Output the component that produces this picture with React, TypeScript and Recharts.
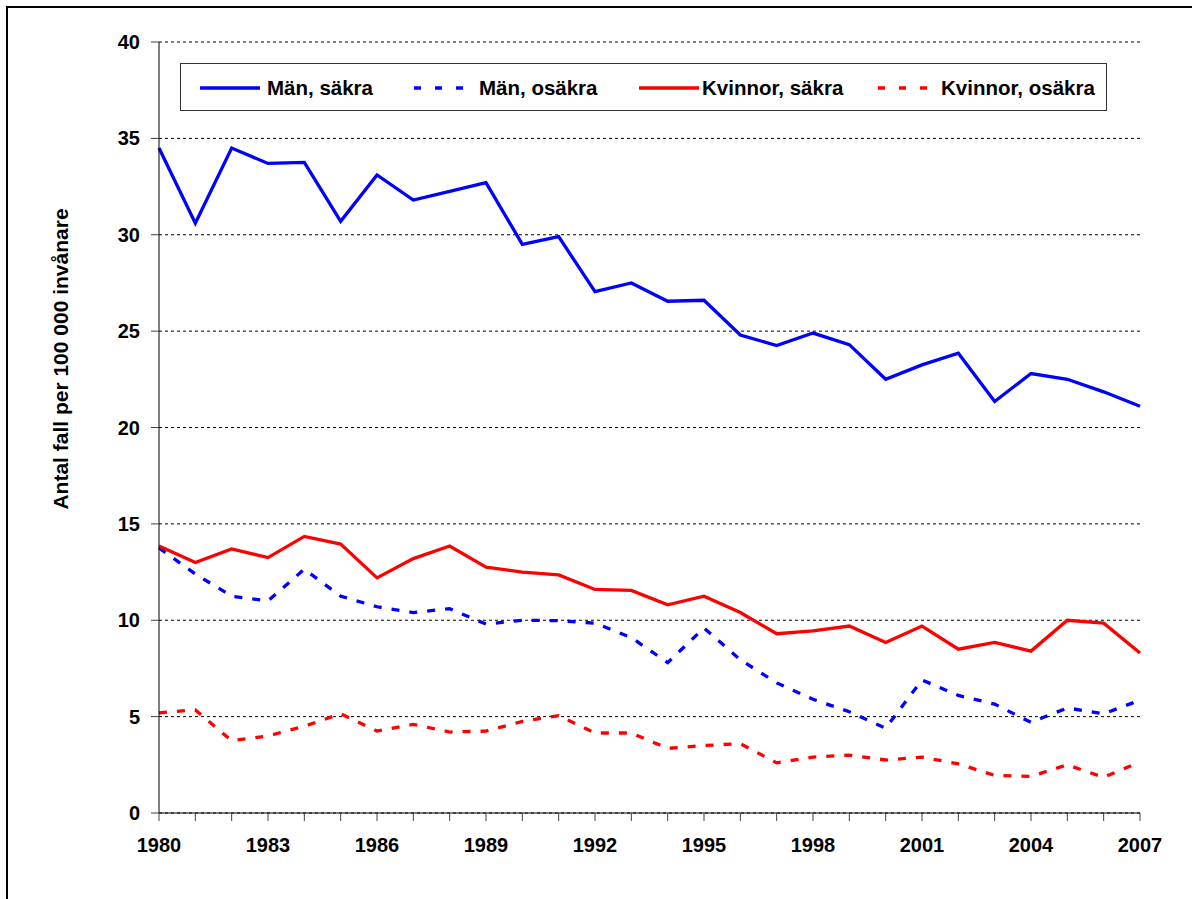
import { CartesianGrid, Line, LineChart, XAxis, YAxis } from "recharts";

const YEARS = [
  1980, 1981, 1982, 1983, 1984, 1985, 1986, 1987, 1988, 1989, 1990, 1991, 1992, 1993,
  1994, 1995, 1996, 1997, 1998, 1999, 2000, 2001, 2002, 2003, 2004, 2005, 2006, 2007,
];

const MEN_SURE = [
  34.5, 30.6, 34.5, 33.7, 33.75, 30.7, 33.1, 31.8, 32.25, 32.7, 29.5, 29.9, 27.05, 27.5,
  26.55, 26.6, 24.8, 24.25, 24.9, 24.3, 22.5, 23.25, 23.85, 21.35, 22.8, 22.5, 21.85, 21.1,
];
const MEN_UNSURE = [
  13.75, 12.4, 11.25, 11.0, 12.65, 11.25, 10.7, 10.4, 10.6, 9.8, 10.0, 9.98, 9.85, 9.1,
  7.8, 9.6, 7.95, 6.75, 5.9, 5.25, 4.4, 6.9, 6.1, 5.65, 4.7, 5.45, 5.15, 5.85,
];
const WOMEN_SURE = [
  13.85, 13.0, 13.7, 13.25, 14.35, 13.95, 12.2, 13.2, 13.85, 12.75, 12.5, 12.35, 11.6, 11.55,
  10.8, 11.25, 10.4, 9.3, 9.45, 9.7, 8.85, 9.7, 8.5, 8.85, 8.4, 10.0, 9.85, 8.3,
];
const WOMEN_UNSURE = [
  5.2, 5.35, 3.75, 4.0, 4.5, 5.15, 4.25, 4.6, 4.2, 4.25, 4.75, 5.05, 4.15, 4.15,
  3.35, 3.5, 3.6, 2.6, 2.9, 3.0, 2.75, 2.9, 2.55, 1.95, 1.9, 2.5, 1.85, 2.65,
];

const Y_TICKS = [0, 5, 10, 15, 20, 25, 30, 35, 40];

const SERIES = [
  { key: "menSure", name: "Män, säkra", color: "#0000FF", dashed: false },
  { key: "menUnsure", name: "Män, osäkra", color: "#0000FF", dashed: true },
  { key: "womenSure", name: "Kvinnor, säkra", color: "#FF0000", dashed: false },
  { key: "womenUnsure", name: "Kvinnor, osäkra", color: "#FF0000", dashed: true },
];

const data = YEARS.map((year, i) => ({
  year,
  menSure: MEN_SURE[i],
  menUnsure: MEN_UNSURE[i],
  womenSure: WOMEN_SURE[i],
  womenUnsure: WOMEN_UNSURE[i],
}));

const FONT = "'Liberation Sans', Arial, sans-serif";
const tickStyle = { fill: "#000", fontSize: 20, fontWeight: 700, fontFamily: FONT };

// legend item x positions (sample line start, text start)
const LEGEND_ITEMS = [
  { sx: 19, tx: 86 },
  { sx: 233, tx: 298 },
  { sx: 458, tx: 521 },
  { sx: 697, tx: 760 },
];

export default function App() {
  return (
    <div style={{ position: "fixed", left: 0, top: 0, width: 1192, height: 899, background: "#fff", overflow: "hidden" }}>
      <div
        style={{
          position: "absolute",
          left: 6,
          top: 6,
          width: 1300,
          height: 1000,
          borderLeft: "2px solid #000",
          borderTop: "2px solid #000",
        }}
      />
      <div style={{ position: "absolute", left: 0, top: 0 }}>
        <LineChart
          width={1192}
          height={899}
          data={data}
          margin={{ top: 42, right: 52, bottom: 46, left: 59 }}
        >
          <CartesianGrid vertical={false} stroke="#000" strokeDasharray="3 3" />
          <XAxis
            dataKey="year"
            type="number"
            domain={[1980, 2007]}
            ticks={YEARS}
            interval={0}
            height={40}
            tickSize={8}
            tickMargin={17}
            stroke="#000"
            tickLine={{ stroke: "#404040" }}
            tick={tickStyle}
            tickFormatter={(y: number) => ((y - 1980) % 3 === 0 ? String(y) : "")}
          />
          <YAxis
            domain={[0, 40]}
            ticks={Y_TICKS}
            interval={0}
            width={100}
            tickSize={8}
            tickMargin={11}
            stroke="#000"
            tickLine={{ stroke: "#404040" }}
            tick={tickStyle}
          />
          {SERIES.map((s) => (
            <Line
              key={s.key}
              dataKey={s.key}
              name={s.name}
              stroke={s.color}
              strokeWidth={3.3}
              strokeDasharray={s.dashed ? "8 10" : undefined}
              dot={false}
              activeDot={false}
              type="linear"
              isAnimationActive={false}
            />
          ))}
        </LineChart>
      </div>
      <svg style={{ position: "absolute", left: 0, top: 0 }} width={120} height={899}>
        <text
          x={68}
          y={359}
          transform="rotate(-90 68 359)"
          textAnchor="middle"
          style={{ fontSize: 21, fontWeight: 700, fontFamily: FONT }}
          fill="#000"
        >
          Antal fall per 100 000 invånare
        </text>
      </svg>
      <div
        style={{
          position: "absolute",
          left: 180,
          top: 63,
          width: 925,
          height: 46,
          border: "1px solid #333",
          background: "#fff",
        }}
      >
        <svg width={925} height={46}>
          {SERIES.map((s, i) => (
            <g key={s.key}>
              <line
                x1={LEGEND_ITEMS[i].sx}
                x2={LEGEND_ITEMS[i].sx + 60}
                y1={24}
                y2={24}
                stroke={s.color}
                strokeWidth={3.3}
                strokeDasharray={s.dashed ? "7 14" : undefined}
              />
              <text
                x={LEGEND_ITEMS[i].tx}
                y={31}
                style={{ fontSize: 20.5, fontWeight: 700, fontFamily: FONT }}
                fill="#000"
              >
                {s.name}
              </text>
            </g>
          ))}
        </svg>
      </div>
    </div>
  );
}
